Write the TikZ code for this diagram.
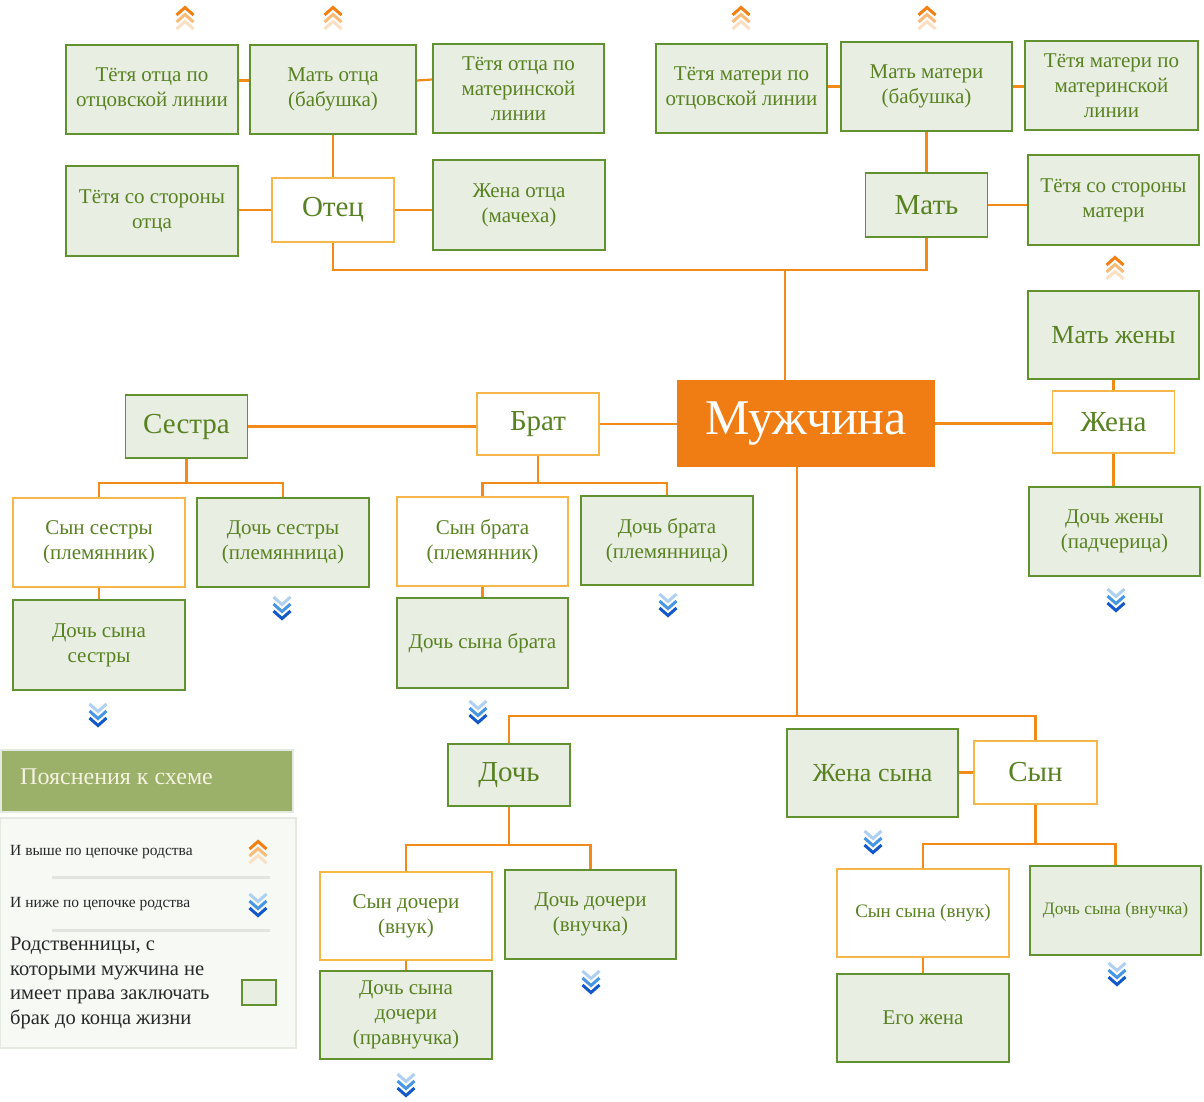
\documentclass[tikz,border=0pt]{standalone}
\usepackage{fontspec}
\setmainfont{Liberation Serif}
\usetikzlibrary{calc}
\definecolor{lorange}{RGB}{242,138,26}
\definecolor{oborder}{RGB}{247,182,72}
\definecolor{gborder}{RGB}{98,145,48}
\definecolor{gfill}{RGB}{233,238,226}
\definecolor{tgreen}{RGB}{88,130,34}
\definecolor{manfill}{RGB}{240,125,20}
\definecolor{leghead}{RGB}{155,176,105}
\definecolor{legbody}{RGB}{247,249,245}
\definecolor{legedge}{RGB}{228,234,224}
\definecolor{legtext}{RGB}{40,40,40}
\definecolor{cOa}{RGB}{242,128,18}
\definecolor{cOb}{RGB}{248,188,120}
\definecolor{cOc}{RGB}{252,224,196}
\definecolor{cBa}{RGB}{175,208,240}
\definecolor{cBb}{RGB}{70,150,228}
\definecolor{cBc}{RGB}{18,88,200}
\newcommand\fsA{\fontsize{21}{25}\selectfont}
\newcommand\fsS{\fontsize{19}{23}\selectfont}
\newcommand\fsT{\fontsize{17.5}{21}\selectfont}
\newcommand\fsB{\fontsize{29}{33}\selectfont}
\newcommand\fsC{\fontsize{26}{30}\selectfont}
\newcommand\fsM{\fontsize{50}{56}\selectfont}
\newcommand\fsL{\fontsize{15.5}{18}\selectfont}
\newcommand\fsP{\fontsize{20.5}{24.5}\selectfont}
\newcommand\fsH{\fontsize{24}{28}\selectfont}
\tikzset{
  gbox/.style={draw=gborder, fill=gfill, line width=1.8pt, text=tgreen, align=center, inner sep=0pt, font=\fsA},
  wbox/.style={draw=oborder, fill=white, line width=1.8pt, text=tgreen, align=center, inner sep=0pt, font=\fsA},
  bw/.style={minimum width=172pt, minimum height=89pt},
  sw/.style={minimum width=122pt, minimum height=63pt},
  manbox/.style={fill=manfill, draw=none, text=white, font=\fsM, inner sep=0pt, minimum width=258pt, minimum height=87pt},
  link/.style={draw=lorange, line width=2.2pt},
  chev/.style={line width=3pt, miter limit=4},
  upchev/.pic={
    \draw[chev, cOc] (-8.5,11)--(0,3.5)--(8.5,11);
    \draw[chev, cOb] (-8.5,4)--(0,-3.5)--(8.5,4);
    \draw[chev, cOa] (-8.5,-3)--(0,-10.5)--(8.5,-3);
  },
  downchev/.pic={
    \draw[chev, cBa] (-8.5,-11)--(0,-3.5)--(8.5,-11);
    \draw[chev, cBb] (-8.5,-4)--(0,3.5)--(8.5,-4);
    \draw[chev, cBc] (-8.5,3)--(0,10.5)--(8.5,3);
  },
  legtxt/.style={anchor=west, inner sep=0pt, text=legtext, align=left}
}
\begin{document}
\begin{tikzpicture}[x=1pt,y=-1pt]
\useasboundingbox[fill=white] (0,0) rectangle (1204,1101);

% ---------- father's side ----------
\node[gbox,bw] (tOO) at (152,89.5) {Тётя отца по\\отцовской линии};
\node[gbox,bw,minimum width=166pt] (mO) at (333,89.5) {Мать отца\\(бабушка)};
\node[gbox,bw,minimum width=171pt] (tOM) at (518.5,88.5) {Тётя отца по\\материнской\\линии};
\node[gbox,bw,minimum height=90pt] (tSO) at (152,211) {Тётя со стороны\\отца};
\node[wbox,sw,font=\fsB,minimum height=64pt] (otec) at (333,210) {Отец};
\node[gbox,bw,minimum height=90pt] (zhO) at (519,205) {Жена отца\\(мачеха)};

% ---------- mother's side ----------
\node[gbox,bw,minimum width=171pt] (tMO) at (741.5,88.5) {Тётя матери по\\отцовской линии};
\node[gbox,bw,minimum width=171pt] (mM) at (926.5,86.5) {Мать матери\\(бабушка)};
\node[gbox,bw,minimum width=173pt] (tMM) at (1111.5,85.5) {Тётя матери по\\материнской\\линии};
\node[gbox,sw,font=\fsB,minimum height=64pt] (mat) at (926.5,205) {Мать};
\node[gbox,bw,minimum width=171pt,minimum height=90pt] (tSM) at (1113.5,200) {Тётя со стороны\\матери};

% ---------- wife ----------
\node[gbox,bw,minimum width=171pt,minimum height=88pt,font=\fsC] (mZh) at (1113.5,335) {Мать жены};
\node[wbox,sw,font=\fsB,minimum height=62pt] (zhena) at (1113.5,422) {Жена};
\node[gbox,bw,minimum width=171pt] (dZh) at (1114.5,531.5) {Дочь жены\\(падчерица)};

% ---------- centre ----------
\node[manbox] (man) at (806,423.5) {Мужчина};
\node[wbox,sw,font=\fsB,minimum height=62pt] (brat) at (538,424) {Брат};
\node[gbox,sw,font=\fsB] (sestra) at (186.5,426.5) {Сестра};

% ---------- sister's children ----------
\node[wbox,bw] (synS) at (99,542.5) {Сын сестры\\(племянник)};
\node[gbox,bw] (docS) at (283,542.5) {Дочь сестры\\(племянница)};
\node[gbox,bw,minimum height=90pt] (dsS) at (99,645) {Дочь сына\\сестры};

% ---------- brother's children ----------
\node[wbox,bw,minimum width=171pt] (synB) at (482.5,541.5) {Сын брата\\(племянник)};
\node[gbox,bw] (docB) at (667,540.5) {Дочь брата\\(племянница)};
\node[gbox,bw,minimum width=171pt,minimum height=90pt] (dsB) at (482.5,643) {Дочь сына брата};

% ---------- children ----------
\node[gbox,sw,font=\fsB,minimum height=62pt] (doch) at (509,775) {Дочь};
\node[wbox,sw,font=\fsB,minimum width=123pt] (syn) at (1035.5,772.5) {Сын};
\node[gbox,bw,minimum width=171pt,minimum height=88pt,font=\fsC] (zhS) at (872.5,773) {Жена сына};

% ---------- daughter's children ----------
\node[wbox,bw,minimum height=88pt] (synD) at (406,916) {Сын дочери\\(внук)};
\node[gbox,bw,minimum width=171pt] (docD) at (590.5,914.5) {Дочь дочери\\(внучка)};
\node[gbox,bw,minimum height=88pt] (dsD) at (406,1015) {Дочь сына\\дочери\\(правнучка)};

% ---------- son's children ----------
\node[wbox,bw,minimum height=88pt,font=\fsS] (synSy) at (923,913) {Сын сына (внук)};
\node[gbox,bw,minimum width=171pt,font=\fsT] (docSy) at (1115.5,910.5) {Дочь сына (внучка)};
\node[gbox,bw,minimum height=88pt] (zhSy) at (923,1018) {Его жена};

% ---------- connectors ----------
\draw[link] ([yshift=9pt]tOO.east) -- ([yshift=9pt]mO.west);
\draw[link] ([yshift=9pt]mO.east) -- ([yshift=9pt]tOM.west);
\draw[link] (mO.south) -- (otec.north);
\draw[link] (otec.west) -- (tSO.east |- otec.west);
\draw[link] (otec.east) -- (zhO.west |- otec.east);

\draw[link] (mM.west) -- (tMO.east |- mM.west);
\draw[link] (mM.east) -- (tMM.west |- mM.east);
\draw[link] (mM.south) -- (mat.north);
\draw[link] (mat.east) -- (tSM.west |- mat.east);

\coordinate (busF) at (785,270);
\draw[link] (otec.south) |- (busF) -| (mat.south);
\draw[link] (busF) -- (busF |- man.north);

\draw[link] (man.east) -- (zhena.west |- man.east);
\draw[link] (mZh.south) -- (mZh.south |- zhena.north);
\draw[link] (zhena.south) -- (zhena.south |- dZh.north);

\draw[link] (brat.east) -- (man.west |- brat.east);
\draw[link] (sestra.east) -- (brat.west |- sestra.east);

\coordinate (busS) at (0,483);
\draw[link] (sestra.south) -- (sestra.south |- busS);
\draw[link] (synS.north) -- (synS.north |- busS) -- (docS.north |- busS) -- (docS.north);
\draw[link] (synS.south) -- (dsS.north);

\draw[link] (brat.south) -- (brat.south |- busS);
\draw[link] (synB.north) -- (synB.north |- busS) -- (docB.north |- busS) -- (docB.north);
\draw[link] (synB.south) -- (dsB.north);

\coordinate (busC) at (797,716);
\draw[link] (busC |- man.south) -- (busC);
\draw[link] (doch.north) -- (doch.north |- busC) -- (syn.north |- busC) -- (syn.north);
\draw[link] (syn.west) -- (zhS.east |- syn.west);

\coordinate (busD) at (0,845);
\draw[link] (doch.south) -- (doch.south |- busD);
\draw[link] (synD.north) -- (synD.north |- busD) -- (docD.north |- busD) -- (docD.north);
\draw[link] (synD.south) -- (dsD.north);

\coordinate (busY) at (0,844);
\draw[link] (syn.south) -- (syn.south |- busY);
\draw[link] (synSy.north) -- (synSy.north |- busY) -- (docSy.north |- busY) -- (docSy.north);
\draw[link] (synSy.south) -- (zhSy.north);

% ---------- chevrons ----------
\pic at (185,18) {upchev};
\pic at (333,18) {upchev};
\pic at (741,18) {upchev};
\pic at (927,18) {upchev};
\pic at (1115,268) {upchev};

\pic at (282,608) {downchev};
\pic at (98,715) {downchev};
\pic at (668,605) {downchev};
\pic at (478,712) {downchev};
\pic at (873,842) {downchev};
\pic at (591,982) {downchev};
\pic at (406,1085) {downchev};
\pic at (1116,600) {downchev};
\pic at (1117,974) {downchev};

% ---------- legend ----------
\node[draw=legedge, line width=1.5pt, fill=legbody, minimum width=296pt, minimum height=230pt, inner sep=0pt] (legBody) at (148,933) {};
\node[fill=leghead, draw=legedge, line width=2pt, minimum width=292pt, minimum height=62pt, inner sep=0pt] (legHead) at (147,781) {};
\node[anchor=west, inner sep=0pt, text={rgb,255:red,246;green,242;blue,226}, font=\fsH] (legTitle) at (20,777) {Пояснения к схеме};
\node[legtxt, font=\fsL] (legUp) at (10,852) {И выше по цепочке родства};
\node[legtxt, font=\fsL] (legDown) at (10,904) {И ниже по цепочке родства};
\pic at (258,852) {upchev};
\pic at (258,905) {downchev};
\draw[line width=3pt, draw={rgb,255:red,225;green,229;blue,224}] (52,877) -- (270,877);
\draw[line width=3pt, draw={rgb,255:red,225;green,229;blue,224}] (52,930) -- (270,930);
\node[legtxt, font=\fsP, anchor=north west] (legNote) at (10,937) {Родственницы, с\\которыми мужчина не\\имеет права заключать\\брак до конца жизни};
\node[draw=gborder, fill=gfill, line width=1.5pt, minimum width=34pt, minimum height=25pt, inner sep=0pt] (legBox) at (259,992.5) {};
\end{tikzpicture}
\end{document}
